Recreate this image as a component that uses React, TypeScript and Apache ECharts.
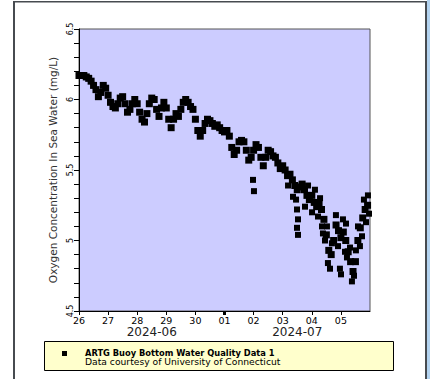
import React, { useEffect, useRef } from "react";
import * as echarts from "echarts";

// x axis: hours since 2024-06-26 00:00
const dayLabels = ["26", "27", "28", "29", "30", "01", "02", "03", "04", "05"];
const monthLabels = ["2024-06", "2024-07"];
const stepHours = 2;
// dissolved oxygen (mg/L), one reading every 2 hours from 2024-06-26 00:00
const mainValues = [
  6.17, 6.17, 6.17, 6.16, 6.15, 6.13, 6.10, 6.07, 6.02, 6.05, 6.10, 6.08,
  6.03, 5.98, 5.95, 5.94, 5.97, 6.01, 6.02, 5.97, 5.91, 5.93, 5.97, 6.00,
  5.97, 5.91, 5.86, 5.84, 5.90, 5.97, 6.01, 6.00, 5.93, 5.88, 5.94, 5.98,
  5.94, 5.86, 5.80, 5.86, 5.90, 5.88, 5.93, 5.98, 6.00, 5.98, 5.95, 5.93,
  5.86, 5.78, 5.74, 5.78, 5.83, 5.86, 5.85, 5.83, 5.81, 5.82, 5.80, 5.78,
  5.77, 5.78, 5.74, 5.66, 5.61, 5.64, 5.70, 5.71, 5.70, 5.64, 5.57, 5.59,
  5.64, 5.68, 5.66, 5.59, 5.53, 5.59, 5.64, 5.63, 5.60, 5.59, 5.55, 5.51,
  5.53, 5.50, 5.46, 5.47, 5.43, 5.39, 5.36, 5.38, 5.40, 5.36, 5.32, 5.29,
  5.32, 5.27, 5.24, 5.26, 5.22, 5.15, 5.04, 4.93, 4.90, 5.00, 5.11, 5.07,
  5.02, 5.06, 5.00, 4.92, 4.85, 4.78, 4.85, 5.00, 5.09, 5.16, 5.22, 5.25,
];
// scattered extra readings (hours, mg/L)
const extraHours = [
  143.5, 144.3, 179.0, 179.8, 180.6, 179.8, 180.6, 172.4, 176.5, 186.4,
  188.9, 192.2, 194.6, 197.1, 198.8, 200.4, 201.2, 202.9, 204.5, 205.3,
  207.0, 208.6, 211.9, 213.6, 215.2, 216.1, 217.7, 219.4, 220.2, 221.0,
  223.5, 225.1, 226.8, 228.4, 230.1, 231.7, 233.4, 235.0, 236.7, 238.3, 239.2,
];
const extraValues = [
  5.43, 5.35, 5.29, 5.22, 5.15, 5.09, 5.04, 5.39, 5.31, 5.24,
  5.39, 5.20, 5.36, 5.17, 5.30, 5.10, 5.05, 5.00, 5.10, 4.84,
  4.80, 4.98, 5.18, 4.96, 4.80, 4.76, 5.15, 4.92, 5.12, 4.88,
  4.95, 4.71, 4.75, 4.93, 5.10, 4.96, 5.03, 5.29, 5.13, 5.32, 5.19,
];
const seriesName = "ARTG Buoy Bottom Water Quality Data 1";
const creditText = "Data courtesy of University of Connecticut";
const yTitle = "Oxygen Concentration In Sea Water (mg/L)";

const FONT = "DejaVu Sans";

export default function App() {
  const ref = useRef<HTMLDivElement>(null);
  useEffect(() => {
    if (!ref.current) return;
    const chart = echarts.init(ref.current, undefined, { renderer: "svg" });
    const mainData = mainValues.map((v, i) => [i * stepHours, v]);
    const extraData = extraHours.map((h, i) => [h, extraValues[i]]);
    const tickHours = dayLabels.map((_, i) => i * 24);
    chart.setOption({
      animation: false,
      backgroundColor: "#ffffff",
      textStyle: { fontFamily: FONT },
      grid: {
        left: 79,
        top: 29,
        right: 60,
        bottom: 68,
        show: true,
        backgroundColor: "#ccccff",
        borderColor: "#555555",
        borderWidth: 1,
      },
      xAxis: [
        {
          type: "value",
          min: 0,
          max: 240,
          axisLine: { lineStyle: { color: "#000", width: 1 } },
          axisTick: {
            customValues: tickHours,
            length: 4,
            lineStyle: { color: "#000" },
          },
          axisLabel: {
            customValues: tickHours,
            formatter: (v: number) => dayLabels[Math.round(v / 24)] ?? "",
            fontSize: 9.5,
            color: "#000",
            margin: 4,
            fontFamily: FONT,
          },
          splitLine: { show: false },
        },
        {
          type: "category",
          data: monthLabels,
          position: "bottom",
          axisLine: { show: false },
          axisTick: { show: false },
          axisLabel: {
            fontSize: 12,
            color: "#222",
            margin: 15,
            fontFamily: FONT,
          },
          splitLine: { show: false },
        },
        {
          type: "value",
          min: 0,
          max: 240,
          position: "bottom",
          axisLine: { show: false },
          axisTick: {
            show: true,
            customValues: [120],
            length: 4,
            lineStyle: { color: "#000", width: 3 },
          },
          axisLabel: { show: false },
          splitLine: { show: false },
        },
      ],
      yAxis: {
        type: "value",
        min: 4.5,
        max: 6.5,
        interval: 0.5,
        name: yTitle,
        nameLocation: "middle",
        nameGap: 16,
        nameTextStyle: { fontSize: 10.5, color: "#333", fontFamily: FONT },
        axisLine: { show: true, lineStyle: { color: "#000" } },
        axisTick: { length: 5, lineStyle: { color: "#000" } },
        minorTick: { show: true, splitNumber: 5, length: 5, lineStyle: { color: "#000" } },
        axisLabel: {
          rotate: 90,
          fontSize: 8,
          color: "#000",
          margin: 5,
          fontFamily: FONT,
        },
        splitLine: { show: false },
      },
      series: [
        {
          name: seriesName,
          type: "scatter",
          symbol: "rect",
          symbolSize: 7,
          itemStyle: { color: "#000", opacity: 1 },
          data: mainData,
        },
        {
          name: seriesName,
          type: "scatter",
          symbol: "rect",
          symbolSize: 6,
          itemStyle: { color: "#000", opacity: 1 },
          data: extraData,
        },
      ],
      graphic: [
        // page frame
        { type: "rect", shape: { x: 13, y: 1, width: 2, height: 378 }, style: { fill: "#474b50" } },
        { type: "rect", shape: { x: 13, y: 1, width: 414, height: 1.5 }, style: { fill: "#474b50" } },
        { type: "rect", shape: { x: 425, y: 1, width: 2, height: 378 }, style: { fill: "#474b50" } },
        { type: "rect", shape: { x: 427, y: 0, width: 3, height: 379 }, style: { fill: "#b3d3f0" } },
        // legend box
        {
          type: "rect",
          shape: { x: 44.5, y: 341.5, width: 349, height: 29 },
          style: { fill: "#ffffcc", stroke: "#000", lineWidth: 1 },
        },
        { type: "rect", shape: { x: 62, y: 351, width: 5, height: 5 }, style: { fill: "#000" } },
        {
          type: "text",
          x: 85,
          y: 352.7,
          style: {
            text: seriesName,
            font: `bold 8.3px "${FONT}"`,
            fill: "#000",
            verticalAlign: "middle",
          },
        },
        {
          type: "text",
          x: 85,
          y: 361.8,
          style: {
            text: creditText,
            font: `9.2px "${FONT}"`,
            fill: "#000",
            verticalAlign: "middle",
          },
        },
      ],
    });
    return () => chart.dispose();
  }, []);
  return (
    <div
      ref={ref}
      style={{ position: "absolute", left: 0, top: 0, width: 430, height: 379 }}
    />
  );
}
